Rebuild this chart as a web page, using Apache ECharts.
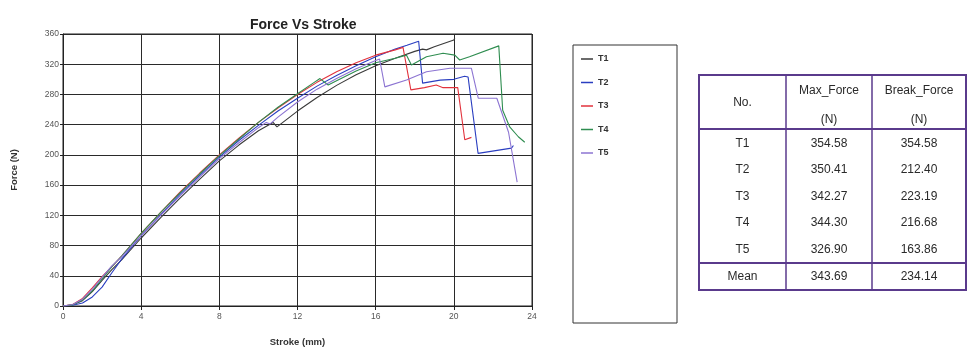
<!DOCTYPE html>
<html>
<head>
<meta charset="utf-8">
<script src="https://cdn.jsdelivr.net/npm/echarts@6/dist/echarts.min.js"></script>
<style>
html,body{margin:0;padding:0;background:#fff;}
#chart{width:971px;height:349px;}
</style>
</head>
<body>
<div id="chart"></div>
<script>
// ---- Data ----
const seriesNames = ['T1', 'T2', 'T3', 'T4', 'T5'];

const t1Stroke = [0, 0.5, 1, 1.5, 2, 2.5, 3, 4, 5, 6, 7, 8, 9, 10, 10.75, 10.95, 12, 13, 14, 15, 16, 17, 18, 18.4, 18.6, 19, 20, 20.05];
const t1Force  = [0, 1.5, 7, 19, 34, 48, 61, 90, 117, 143, 168, 192, 213, 232, 243, 237, 258, 276, 292, 306, 318, 328, 337, 340, 339, 343, 352, 354.58];

const t2Stroke = [0, 0.5, 1, 1.5, 2, 2.5, 3, 4, 5, 6, 7, 8, 9, 10, 11, 12, 13, 14, 15, 16, 17, 17.6, 18.2, 18.4, 19.3, 20, 20.55, 20.73, 21.24, 22.95, 23.05];
const t2Force  = [0, 1, 4, 12, 25, 44, 62, 93, 121, 148, 173, 197, 219, 239, 258, 275, 291, 305, 318, 330, 340, 345, 350.41, 295, 299, 300, 304, 303, 202, 209, 212.4];

const t3Stroke = [0, 0.5, 1, 1.5, 2, 2.5, 3, 4, 5, 6, 7, 8, 9, 10, 11, 12, 13, 14, 15, 16, 17, 17.4, 17.8, 18.5, 19.1, 19.45, 20.2, 20.56, 20.9];
const t3Force  = [0, 2, 10, 24, 39, 52, 66, 96, 124, 151, 176, 200, 222, 243, 262, 280, 296, 310, 322, 332, 339, 342.27, 286, 289, 292.5, 289, 289, 220, 223.19];

const t4Stroke = [0, 0.5, 1, 1.5, 2, 2.5, 3, 4, 5, 6, 7, 8, 9, 10, 11, 12, 12.8, 13.15, 13.57, 14, 15, 16, 17, 17.58, 17.83, 18.6, 19.45, 20.05, 20.3, 20.8, 22.3, 22.5, 22.86, 23.3, 23.63];
const t4Force  = [0, 1.5, 8, 20, 36, 52, 66, 96, 124, 150, 175, 199, 221, 243, 263, 281, 295, 301, 292.5, 298, 311, 322, 328, 332, 319, 330, 334.5, 332, 325.6, 330, 344.3, 259, 237, 224, 216.68];

const t5Stroke = [0, 0.5, 1, 1.5, 2, 2.5, 3, 4, 5, 6, 7, 8, 9, 10, 10.4, 10.6, 11, 12, 13, 14, 15, 16, 16.2, 16.47, 17.58, 18.6, 19.8, 20.9, 21.25, 22.2, 22.8, 23.24];
const t5Force  = [0, 2, 9, 22, 38, 53, 65, 93, 120, 146, 171, 195, 216, 236, 243, 241, 250, 270, 287, 301, 314, 325, 326.9, 290, 299, 310, 314.6, 314.6, 275, 275, 230, 163.86];

const xTicks = [0, 4, 8, 12, 16, 20, 24];
const yTicks = [0, 40, 80, 120, 160, 200, 240, 280, 320, 360];

const tableNames = ['T1', 'T2', 'T3', 'T4', 'T5', 'Mean'];
const maxForce   = ['354.58', '350.41', '342.27', '344.30', '326.90', '343.69'];
const breakForce = ['354.58', '212.40', '223.19', '216.68', '163.86', '234.14'];

// ---- Styling / layout ----
const colors = ['#3a3a3a', '#2a3ec0', '#e2323c', '#2f8d50', '#8c74d2'];
const strokes = [t1Stroke, t2Stroke, t3Stroke, t4Stroke, t5Stroke];
const forces  = [t1Force, t2Force, t3Force, t4Force, t5Force];

const series = seriesNames.map((n, k) => ({
  name: n,
  type: 'line',
  symbol: 'none',
  showSymbol: false,
  animation: false,
  lineStyle: { width: 1.1, color: colors[k] },
  itemStyle: { color: colors[k] },
  data: strokes[k].map((s, i) => [s, forces[k][i]])
}));

// Table graphics
const tb = { x0: 699, x1: 786, x2: 872, x3: 966, top: 75, headBot: 129, meanTop: 263, bottom: 290 };
const purple = '#5a3a8c';
const tFont = '12px "Liberation Sans", Arial, sans-serif';
const tColor = '#2a2a2a';
const graphics = [];
function line(x1, y1, x2, y2, w) {
  graphics.push({ type: 'line', shape: { x1, y1, x2, y2 }, style: { stroke: purple, lineWidth: w }, silent: true });
}
function txt(x, y, t) {
  graphics.push({ type: 'text', x, y, style: { text: t, font: tFont, fill: tColor, textAlign: 'center', textVerticalAlign: 'middle' }, silent: true });
}
graphics.push({ type: 'rect', shape: { x: tb.x0, y: tb.top, width: tb.x3 - tb.x0, height: tb.bottom - tb.top }, style: { fill: 'none', stroke: purple, lineWidth: 2 }, silent: true });
line(tb.x0, tb.headBot, tb.x3, tb.headBot, 2);
line(tb.x0, tb.meanTop, tb.x3, tb.meanTop, 2);
line(tb.x1, tb.top, tb.x1, tb.bottom, 1.5);
line(tb.x2, tb.top, tb.x2, tb.bottom, 1.5);
const c0 = (tb.x0 + tb.x1) / 2, c1 = (tb.x1 + tb.x2) / 2, c2 = (tb.x2 + tb.x3) / 2;
txt(c0, 103, 'No.');
txt(c1, 90.5, 'Max_Force');
txt(c1, 120, '(N)');
txt(c2, 90.5, 'Break_Force');
txt(c2, 120, '(N)');
const rowY = [143.5, 170, 196.5, 223, 249.5, 277];
tableNames.forEach((n, i) => {
  txt(c0, rowY[i], n);
  txt(c1, rowY[i], maxForce[i]);
  txt(c2, rowY[i], breakForce[i]);
});
// legend box
graphics.push({ type: 'rect', shape: { x: 573, y: 45, width: 104, height: 278 }, style: { fill: 'none', stroke: '#333', lineWidth: 1 }, silent: true });

const chart = echarts.init(document.getElementById('chart'), null, { renderer: 'canvas' });
chart.setOption({
  animation: false,
  backgroundColor: '#ffffff',
  title: {
    text: 'Force Vs Stroke',
    left: 245,
    top: 13,
    textStyle: { fontFamily: '"Liberation Sans", Arial, sans-serif', fontSize: 14, fontWeight: 'bold', color: '#222' }
  },
  legend: {
    orient: 'vertical',
    left: 581,
    top: 54,
    icon: 'rect',
    itemWidth: 12,
    itemHeight: 1.5,
    itemGap: 13.5,
    padding: 0,
    data: seriesNames,
    textStyle: { fontFamily: '"Liberation Sans", Arial, sans-serif', fontSize: 9, fontWeight: 'bold', color: '#333', lineHeight: 10, height: 10 }
  },
  grid: { left: 63, right: 439, top: 34, bottom: 43, show: true, borderColor: '#222', borderWidth: 1, outerBoundsMode: 'none', containLabel: false },
  xAxis: {
    type: 'value', min: xTicks[0], max: xTicks[xTicks.length - 1], interval: 4,
    name: 'Stroke (mm)', nameLocation: 'middle', nameGap: 31,
    nameTextStyle: { fontFamily: '"Liberation Sans", Arial, sans-serif', fontSize: 9.5, fontWeight: 'bold', color: '#333' },
    axisLine: { lineStyle: { color: '#222', width: 1 } },
    axisTick: { show: true, length: 4, lineStyle: { color: '#222' } },
    axisLabel: { fontFamily: '"Liberation Sans", Arial, sans-serif', fontSize: 8.5, color: '#555', margin: 6 },
    splitLine: { show: true, lineStyle: { color: '#2a2a2a', width: 1 } }
  },
  yAxis: {
    type: 'value', min: yTicks[0], max: yTicks[yTicks.length - 1], interval: 40,
    name: 'Force (N)', nameLocation: 'middle', nameGap: 44, nameRotate: 90,
    nameTextStyle: { fontFamily: '"Liberation Sans", Arial, sans-serif', fontSize: 9.5, fontWeight: 'bold', color: '#333' },
    axisLine: { show: true, lineStyle: { color: '#222', width: 1 } },
    axisTick: { show: true, length: 3, lineStyle: { color: '#222' } },
    axisLabel: { fontFamily: '"Liberation Sans", Arial, sans-serif', fontSize: 8.5, color: '#555', margin: 4 },
    splitLine: { show: true, lineStyle: { color: '#2a2a2a', width: 1 } }
  },
  graphic: graphics,
  series: series
});
</script>
</body>
</html>
